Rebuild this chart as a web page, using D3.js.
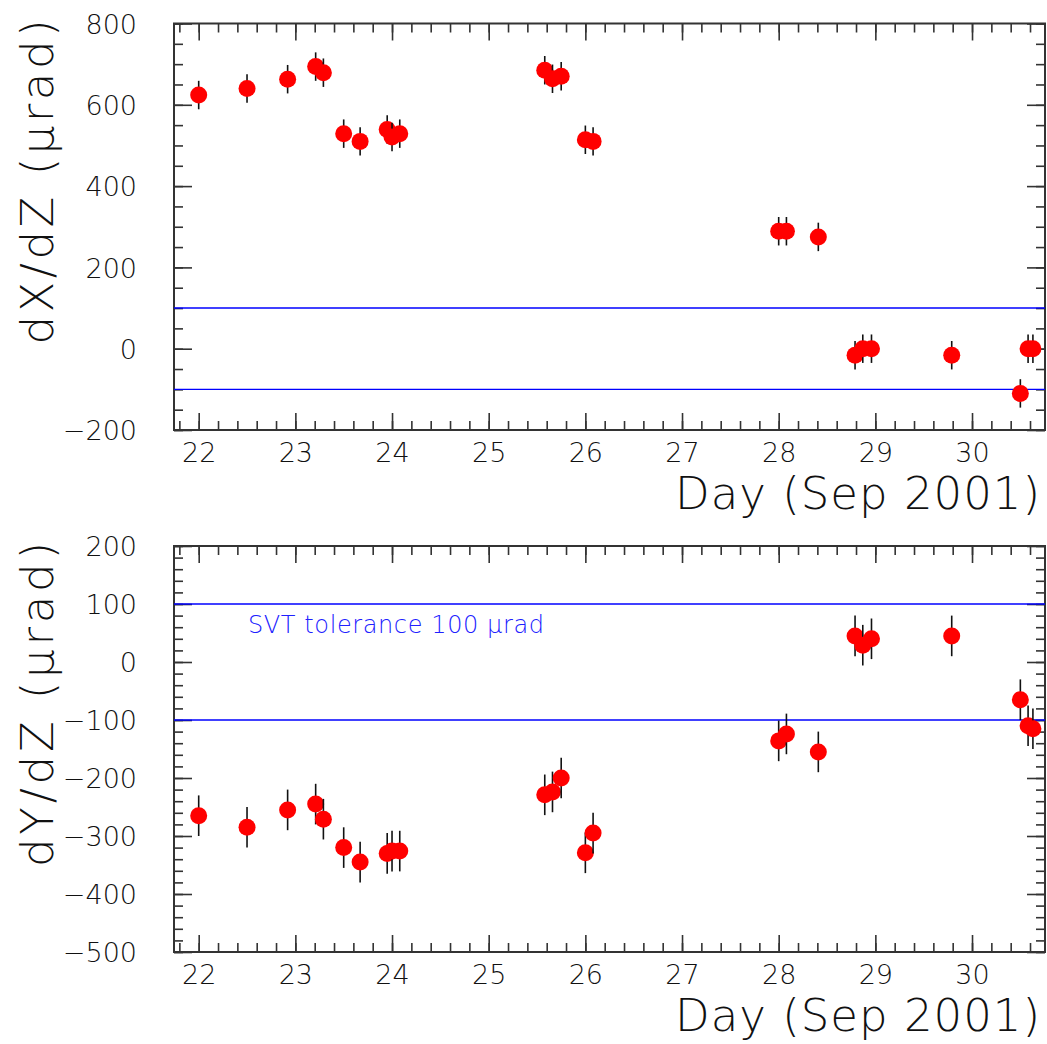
<!DOCTYPE html>
<html>
<head>
<meta charset="utf-8">
<script src="https://cdn.jsdelivr.net/npm/d3@7"></script>
<style>
  html, body { margin: 0; padding: 0; background: #fff; }
  svg { display: block; }
  text { font-family: "DejaVu Sans ExtraLight", "DejaVu Sans", sans-serif; font-weight: 200; fill: #111; }
</style>
</head>
<body>
<svg id="chart" width="1047" height="1044"></svg>
<script>
// Measurement days (September 2001) shared by both panels
const days = [22.00, 22.50, 22.92, 23.21, 23.29, 23.50, 23.67, 23.95, 24.00, 24.08,
              25.58, 25.66, 25.75, 26.00, 26.08, 28.00, 28.08, 28.41,
              28.79, 28.87, 28.96, 29.79, 30.50, 30.58, 30.63];

// dX/dZ in microradians and their errors
const dxdz = [624, 640, 663, 694, 679, 529, 510, 539, 521, 529,
              685, 664, 670, 514, 510, 289, 289, 275,
              -16, 0, 0, -16, -110, 0, 0];
const dxdzErr = [35, 35, 35, 35, 35, 35, 35, 35, 35, 35,
                 35, 35, 35, 35, 35, 35, 35, 35,
                 35, 35, 35, 35, 35, 35, 35];

// dY/dZ in microradians and their errors
const dydz = [-265, -285, -255, -245, -271, -320, -345, -330, -326, -326,
              -229, -224, -200, -329, -295, -136, -124, -155,
              45, 29, 40, 45, -65, -110, -115];
const dydzErr = [35, 35, 35, 35, 35, 35, 35, 35, 35, 35,
                 35, 35, 35, 35, 35, 35, 35, 35,
                 35, 35, 35, 35, 35, 35, 35];

// Axis ticks
const dayTicks = [22, 23, 24, 25, 26, 27, 28, 29, 30];
const dxTicks = [-200, 0, 200, 400, 600, 800];
const dyTicks = [-500, -400, -300, -200, -100, 0, 100, 200];
const tolerance = [-100, 100];

const xTitle = "Day (Sep 2001)";
const toleranceLabel = "SVT tolerance 100 \u03BCrad";

const svg = d3.select("#chart");
const left = 174, right = 1045;

const x = d3.scaleLinear().domain([21.7445, 30.755]).range([left, right]);

function minorTicks(lo, hi, step) {
  const out = [];
  const n = Math.round((hi - lo) / step);
  for (let i = 0; i <= n; i++) out.push(+(lo + i * step).toFixed(6));
  return out;
}
const dayMinor = minorTicks(21.8, 30.6, 0.2);
const fmt = v => (v < 0 ? "\u2212" + Math.abs(v) : String(v));

function panel(cfg) {
  const { top, bottom, domain, yTicks, yMinorStep, values, errors, yTitle } = cfg;
  const y = d3.scaleLinear().domain(domain).range([bottom, top]);
  const g = svg.append("g");
  const yMinor = minorTicks(domain[0], domain[1], yMinorStep);

  const tickStyle = sel => {
    sel.select(".domain").remove();
    sel.selectAll(".tick line").attr("stroke", "#333").attr("stroke-width", 1.6);
  };

  // bottom axis: minor and major inward ticks with labels
  g.append("g").attr("transform", `translate(0,${bottom})`)
    .call(d3.axisBottom(x).tickValues(dayMinor).tickSize(-9).tickFormat(""))
    .call(tickStyle);
  const xb = g.append("g").attr("transform", `translate(0,${bottom})`)
    .call(d3.axisBottom(x).tickValues(dayTicks).tickSize(-17).tickFormat(d3.format("d")))
    .call(tickStyle);
  xb.selectAll("text").attr("y", 32).attr("dy", null)
    .style("font-size", "27px").attr("fill", "#111");

  // top axis: inward ticks only
  g.append("g").attr("transform", `translate(0,${top})`)
    .call(d3.axisTop(x).tickValues(dayMinor).tickSize(-9).tickFormat(""))
    .call(tickStyle);
  g.append("g").attr("transform", `translate(0,${top})`)
    .call(d3.axisTop(x).tickValues(dayTicks).tickSize(-17).tickFormat(""))
    .call(tickStyle);

  // left axis with labels
  g.append("g").attr("transform", `translate(${left},0)`)
    .call(d3.axisLeft(y).tickValues(yMinor).tickSize(-9).tickFormat(""))
    .call(tickStyle);
  const yl = g.append("g").attr("transform", `translate(${left},0)`)
    .call(d3.axisLeft(y).tickValues(yTicks).tickSize(-18).tickPadding(37).tickFormat(fmt))
    .call(tickStyle);
  yl.selectAll("text").style("font-size", "27px").attr("dy", "0.36em").attr("fill", "#111");

  // right axis: inward ticks only
  g.append("g").attr("transform", `translate(${right},0)`)
    .call(d3.axisRight(y).tickValues(yMinor).tickSize(-9).tickFormat(""))
    .call(tickStyle);
  g.append("g").attr("transform", `translate(${right},0)`)
    .call(d3.axisRight(y).tickValues(yTicks).tickSize(-18).tickFormat(""))
    .call(tickStyle);

  // frame
  g.append("rect")
    .attr("x", left).attr("y", top)
    .attr("width", right - left).attr("height", bottom - top)
    .attr("fill", "none").attr("stroke", "#333").attr("stroke-width", 2);

  // tolerance band edges
  g.selectAll("line.tol").data(tolerance).join("line")
    .attr("class", "tol")
    .attr("x1", left).attr("x2", right)
    .attr("y1", d => y(d)).attr("y2", d => y(d))
    .attr("stroke", "#0000ff").attr("stroke-width", 1.4);

  // error bars and markers, one point at a time
  const pts = days.map((d, i) => ({ d, v: values[i], e: errors[i] }));
  const pg = g.selectAll("g.pt").data(pts).join("g").attr("class", "pt");
  pg.append("line")
    .attr("x1", p => x(p.d)).attr("x2", p => x(p.d))
    .attr("y1", p => y(p.v - p.e)).attr("y2", p => y(p.v + p.e))
    .attr("stroke", "#111").attr("stroke-width", 1.6);
  pg.append("circle")
    .attr("cx", p => x(p.d)).attr("cy", p => y(p.v))
    .attr("r", 8.5).attr("fill", "#ff0000");

  // axis titles
  g.append("text")
    .attr("x", 1040).attr("y", bottom + 79)
    .attr("text-anchor", "end")
    .attr("textLength", 365).attr("lengthAdjust", "spacing")
    .style("font-size", "45px")
    .text(xTitle);
  g.append("text")
    .attr("transform", `translate(53,${top - 4}) rotate(-90)`)
    .attr("text-anchor", "end")
    .attr("textLength", 325).attr("lengthAdjust", "spacing")
    .style("font-size", "45px")
    .text(yTitle);

  return { g, y };
}

panel({
  top: 23.5, bottom: 430, domain: [-200, 800], yTicks: dxTicks, yMinorStep: 50,
  values: dxdz, errors: dxdzErr, yTitle: "dX/dZ (\u03BCrad)"
});

const p2 = panel({
  top: 546, bottom: 952, domain: [-500, 200], yTicks: dyTicks, yMinorStep: 20,
  values: dydz, errors: dydzErr, yTitle: "dY/dZ (\u03BCrad)"
});

p2.g.append("text")
  .attr("x", 248).attr("y", 633)
  .attr("textLength", 296).attr("lengthAdjust", "spacing")
  .style("font-size", "24px")
  .style("fill", "#2020ff")
  .text(toleranceLabel);
</script>
</body>
</html>
